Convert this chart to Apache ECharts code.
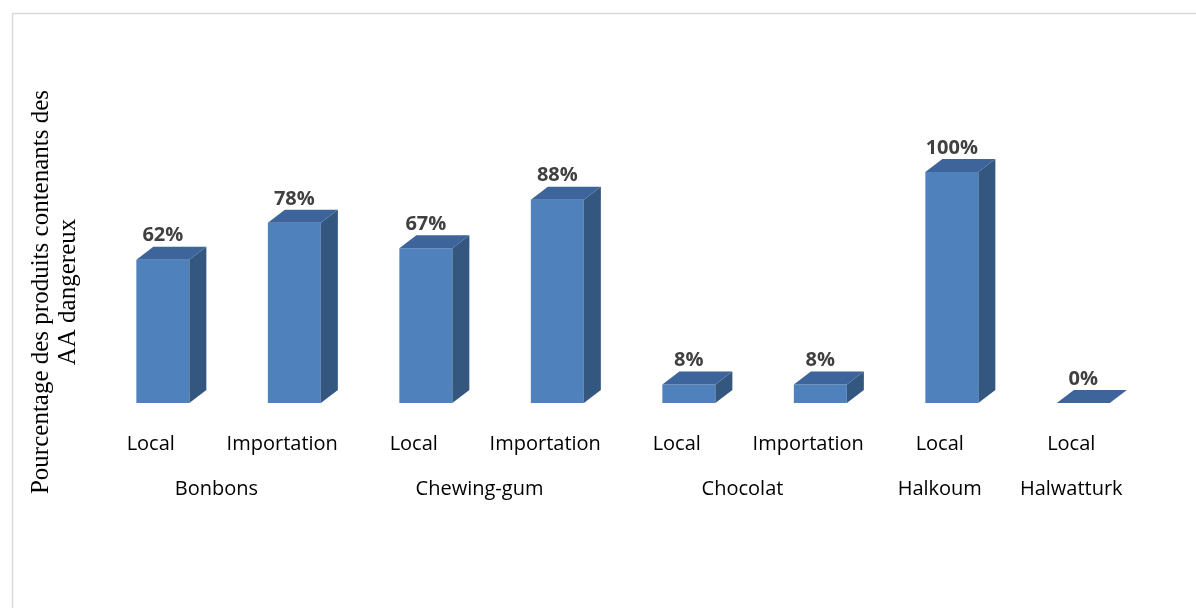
<!DOCTYPE html>
<html>
<head>
<meta charset="utf-8">
<script src="https://cdn.jsdelivr.net/npm/echarts@6/dist/echarts.min.js"></script>
<style>
html,body{margin:0;padding:0;background:#fff;}
#chart{width:1196px;height:608px;}
</style>
</head>
<body>
<div id="chart"></div>
<script>
const categories = ['Local','Importation','Local','Importation','Local','Importation','Local','Local'];
const values = [62, 78, 67, 88, 8, 8, 100, 0];
const groups = ['Bonbons','Chewing-gum','Chocolat','Halkoum','Halwatturk'];
const groupSizes = [2, 2, 2, 1, 1];
const yTitle = 'Pourcentage des produits contenants des\nAA dangereux';

// group centers in category-index units
const groupCenters = [];
(function(){
  let start = 0;
  groupSizes.forEach(function(n){
    groupCenters.push(start + (n - 1) / 2);
    start += n;
  });
})();

const FRONT = '#4F81BD', TOP = '#3D659B', SIDE = '#34577F';
const DX = 17, DY = 13;

const chart = echarts.init(document.getElementById('chart'));
chart.setOption({
  backgroundColor: '#ffffff',
  animation: false,
  grid: { left: 85, width: 1052, top: 172, bottom: 205, containLabel: false },
  xAxis: [
    {
      type: 'category', data: categories,
      axisLine: { show: false }, axisTick: { show: false }, splitLine: { show: false },
      axisLabel: { interval: 0, margin: 31, fontSize: 20, fontFamily: 'Open Sans', color: '#000' }
    },
    {
      type: 'value', min: -0.5, max: 7.5, interval: 0.5, position: 'bottom',
      axisLine: { show: false }, axisTick: { show: false }, splitLine: { show: false },
      axisLabel: {
        margin: 76, fontSize: 20, fontFamily: 'Open Sans', color: '#000',
        showMinLabel: true, showMaxLabel: true,
        formatter: function (v) {
          for (let i = 0; i < groupCenters.length; i++) {
            if (Math.abs(groupCenters[i] - v) < 1e-6) return groups[i];
          }
          return '';
        }
      }
    }
  ],
  yAxis: { type: 'value', min: 0, max: 100, show: false },
  graphic: [
    {
      type: 'rect', left: 10, top: 11, z: -10,
      shape: { x: 0, y: 0, width: 1185, height: 640 },
      style: { fill: 'none', stroke: '#d9d9d9', lineWidth: 1.5 }
    },
    {
      type: 'text', x: 55, y: 292, rotation: Math.PI / 2,
      style: {
        text: yTitle, font: '25px "Liberation Serif"', fill: '#000',
        textAlign: 'center', textVerticalAlign: 'middle', lineHeight: 27
      }
    }
  ],
  series: [{
    type: 'custom',
    xAxisIndex: 0, yAxisIndex: 0,
    data: values.map(function (v, i) { return [i, v]; }),
    renderItem: function (params, api) {
      const i = api.value(0), v = api.value(1);
      const top = api.coord([i, v]);
      const base = api.coord([i, 0]);
      const band = api.size([1, 0])[0];
      const w = band * 0.403;
      const cx = top[0] + band * 0.092;
      const x0 = cx - w / 2, x1 = cx + w / 2;
      const yt = top[1], yb = base[1];
      const children = [];
      if (yb - yt > 0.5) {
        children.push({ type: 'polygon', shape: { points: [[x0, yt], [x1, yt], [x1, yb], [x0, yb]] }, style: { fill: FRONT } });
        children.push({ type: 'polygon', shape: { points: [[x1, yt], [x1 + DX, yt - DY], [x1 + DX, yb - DY], [x1, yb]] }, style: { fill: SIDE } });
      }
      children.push({ type: 'polygon', shape: { points: [[x0, yt], [x1, yt], [x1 + DX, yt - DY], [x0 + DX, yt - DY]] }, style: { fill: TOP } });
      children.push({
        type: 'text', x: cx, y: yt - 24,
        style: { text: v + '%', font: 'bold 20px "Open Sans"', fill: '#404040', textAlign: 'center', textVerticalAlign: 'middle' }
      });
      return { type: 'group', children: children };
    }
  }]
});
</script>
</body>
</html>
